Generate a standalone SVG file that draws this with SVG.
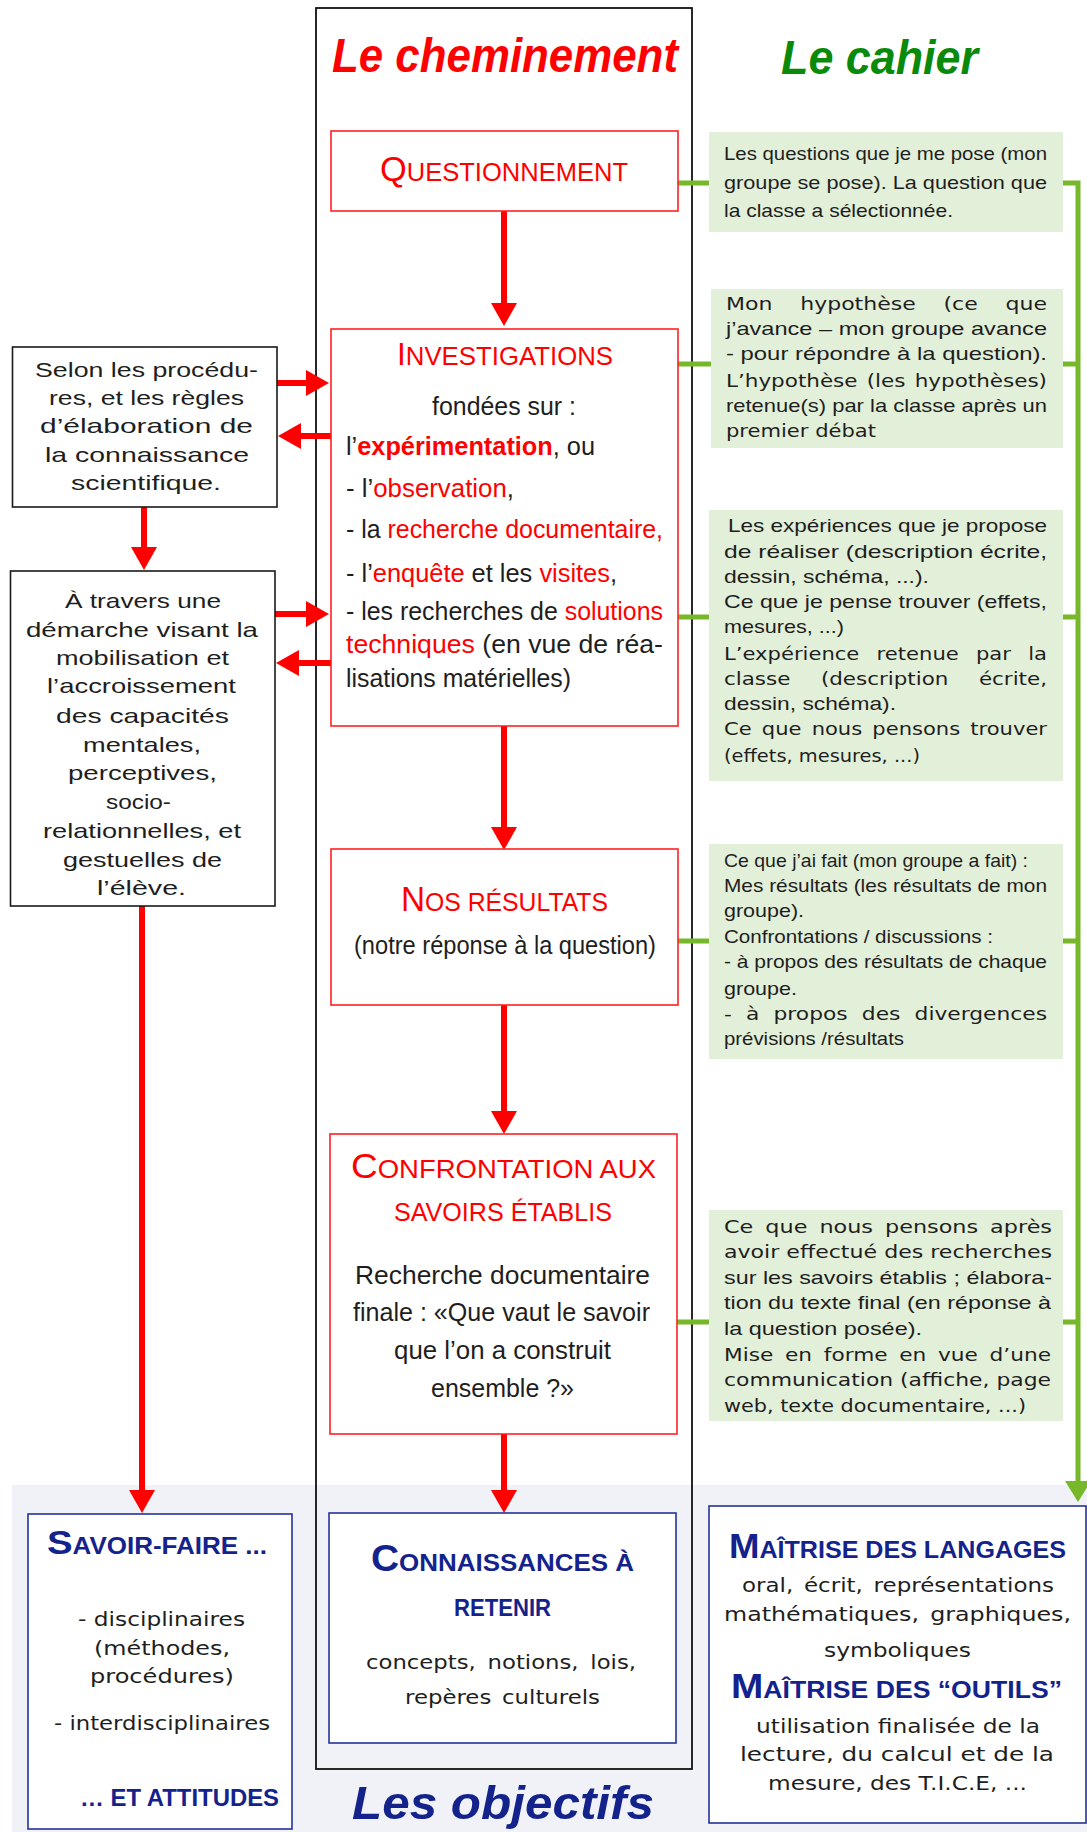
<svg xmlns="http://www.w3.org/2000/svg" width="1087" height="1832" viewBox="0 0 1087 1832">
<style>
text{font-family:"Liberation Sans",Arial,sans-serif;fill:#1e1e1e}
.t{font-size:26px}
.g{font-size:18.5px}
.cg{font-family:"DejaVu Sans","Liberation Sans",sans-serif;font-size:18px}
.s{font-size:21px}
.bc{font-family:"DejaVu Sans","Liberation Sans",sans-serif;font-size:20px}
.red{fill:#ff0000}
.blue{fill:#14238c;font-weight:bold}
.rt{fill:#ff0000;font-size:26px}
.redbox{fill:#fff;stroke:#ff2020;stroke-width:1.6}
.bluebox{fill:#fff;stroke:#23349a;stroke-width:1.6}
.blkbox{fill:#fff;stroke:#1a1a1a;stroke-width:1.6}
.gbox{fill:#e2efd9;stroke:none}
.ra{stroke:#ff0000;stroke-width:6;fill:none}
.gl{stroke:#76b82a;stroke-width:5;fill:none}
</style>
<defs>
<marker id="ah" markerUnits="userSpaceOnUse" markerWidth="24" markerHeight="26" refX="1" refY="13" orient="auto"><path d="M0,0 L23,13 L0,26 z" fill="#ff0000"/></marker>
<marker id="ahg" markerUnits="userSpaceOnUse" markerWidth="22" markerHeight="26" refX="1" refY="13" orient="auto"><path d="M0,0 L21,13 L0,26 z" fill="#76b82a"/></marker>
</defs>

<rect x="12" y="1485" width="1075" height="347" fill="#f1f2f8"/>
<rect id="frame" x="316" y="8" width="376" height="1761" fill="none" stroke="#111" stroke-width="1.8"/>

<text x="332" y="72" font-size="48" font-weight="bold" font-style="italic" textLength="346" lengthAdjust="spacingAndGlyphs" style="fill:#ff0000">Le  cheminement</text>
<text x="781" y="74" font-size="48" font-weight="bold" font-style="italic" textLength="197" lengthAdjust="spacingAndGlyphs" style="fill:#0a8a0a">Le cahier</text>
<text x="352" y="1819" font-size="47" font-weight="bold" font-style="italic" textLength="302" lengthAdjust="spacingAndGlyphs" style="fill:#14238c">Les  objectifs</text>

<g id="connectors">
<path class="ra" d="M504,211 V304" marker-end="url(#ah)"/>
<path class="ra" d="M504,726 V828" marker-end="url(#ah)"/>
<path class="ra" d="M504,1005 V1112" marker-end="url(#ah)"/>
<path class="ra" d="M504,1434 V1491" marker-end="url(#ah)"/>
<path class="ra" d="M144,507 V548" marker-end="url(#ah)"/>
<path class="ra" d="M142,906 V1491" marker-end="url(#ah)"/>
<path class="ra" d="M277,383 H307" marker-end="url(#ah)"/>
<path class="ra" d="M331,436 H300" marker-end="url(#ah)"/>
<path class="ra" d="M275,614 H307" marker-end="url(#ah)"/>
<path class="ra" d="M331,663 H298" marker-end="url(#ah)"/>
<path class="gl" d="M678,183 H709 M1063,183 H1078 V1482" marker-end="url(#ahg)"/>
<path class="gl" d="M678,364 H711 M1063,364 H1078"/>
<path class="gl" d="M678,617 H709 M1063,617 H1078"/>
<path class="gl" d="M678,941 H709 M1063,941 H1078"/>
<path class="gl" d="M677,1322 H709 M1063,1322 H1078"/>
</g>

<g id="questionnement">
<rect class="redbox" x="331" y="131" width="347" height="80"/>
<text class="rt" x="380" y="181" textLength="248" lengthAdjust="spacingAndGlyphs"><tspan font-size="35">Q</tspan>UESTIONNEMENT</text>
</g>

<g id="investigations">
<rect class="redbox" x="331" y="329" width="347" height="397"/>
<text class="rt" x="397" y="365" textLength="216" lengthAdjust="spacingAndGlyphs"><tspan font-size="32">I</tspan>NVESTIGATIONS</text>
<text class="t" x="432" y="415" textLength="144" lengthAdjust="spacingAndGlyphs">fondées sur :</text>
<text class="t" x="346" y="455" textLength="249" lengthAdjust="spacingAndGlyphs">l’<tspan class="red" font-weight="bold">expérimentation</tspan>, ou</text>
<text class="t" x="346" y="497" textLength="168" lengthAdjust="spacingAndGlyphs">- l’<tspan class="red">observation</tspan>,</text>
<text class="t" x="346" y="538" textLength="317" lengthAdjust="spacingAndGlyphs">- la <tspan class="red">recherche documentaire,</tspan></text>
<text class="t" x="346" y="582" textLength="271" lengthAdjust="spacingAndGlyphs">- l’<tspan class="red">enquête</tspan> et les <tspan class="red">visites</tspan>,</text>
<text class="t" x="346" y="620" textLength="317" lengthAdjust="spacingAndGlyphs">- les recherches de <tspan class="red">solutions</tspan></text>
<text class="t" x="346" y="653" textLength="317" lengthAdjust="spacingAndGlyphs"><tspan class="red">techniques</tspan> (en vue de réa-</text>
<text class="t" x="346" y="687" textLength="225" lengthAdjust="spacingAndGlyphs">lisations matérielles)</text>
</g>

<g id="resultats">
<rect class="redbox" x="331" y="849" width="347" height="156"/>
<text class="rt" x="401" y="911" textLength="207" lengthAdjust="spacingAndGlyphs"><tspan font-size="35">N</tspan>OS RÉSULTATS</text>
<text class="t" x="354" y="954" textLength="302" lengthAdjust="spacingAndGlyphs">(notre réponse à la question)</text>
</g>

<g id="confrontation">
<rect class="redbox" x="330" y="1134" width="347" height="300"/>
<text class="rt" x="351" y="1178" textLength="305" lengthAdjust="spacingAndGlyphs"><tspan font-size="35">C</tspan>ONFRONTATION  AUX</text>
<text class="rt" x="394" y="1221" textLength="218" lengthAdjust="spacingAndGlyphs">SAVOIRS  ÉTABLIS</text>
<text class="t" x="355" y="1284" textLength="295" lengthAdjust="spacingAndGlyphs">Recherche documentaire</text>
<text class="t" x="353" y="1321" textLength="297" lengthAdjust="spacingAndGlyphs">finale : «Que vaut le savoir</text>
<text class="t" x="394" y="1359" textLength="217" lengthAdjust="spacingAndGlyphs">que l’on a construit</text>
<text class="t" x="431" y="1397" textLength="143" lengthAdjust="spacingAndGlyphs">ensemble ?»</text>
</g>

<g id="selon">
<rect class="blkbox" x="12.5" y="347" width="264.5" height="160"/>
<text class="s" x="35" y="377" textLength="223" lengthAdjust="spacingAndGlyphs">Selon les procédu-</text>
<text class="s" x="49" y="405" textLength="195" lengthAdjust="spacingAndGlyphs">res, et les règles</text>
<text class="s" x="40" y="433" textLength="213" lengthAdjust="spacingAndGlyphs">d’élaboration de</text>
<text class="s" x="45" y="462" textLength="204" lengthAdjust="spacingAndGlyphs">la connaissance</text>
<text class="s" x="71" y="490" textLength="150" lengthAdjust="spacingAndGlyphs">scientifique.</text>
</g>

<g id="atravers">
<rect class="blkbox" x="10.5" y="571" width="264.5" height="335"/>
<text class="s" x="65" y="608" textLength="156" lengthAdjust="spacingAndGlyphs">À travers une</text>
<text class="s" x="26" y="637" textLength="232" lengthAdjust="spacingAndGlyphs">démarche visant la</text>
<text class="s" x="56" y="665" textLength="173" lengthAdjust="spacingAndGlyphs">mobilisation et</text>
<text class="s" x="47" y="693" textLength="189" lengthAdjust="spacingAndGlyphs">l’accroissement</text>
<text class="s" x="56" y="723" textLength="173" lengthAdjust="spacingAndGlyphs">des capacités</text>
<text class="s" x="83" y="752" textLength="118" lengthAdjust="spacingAndGlyphs">mentales,</text>
<text class="s" x="68" y="780" textLength="149" lengthAdjust="spacingAndGlyphs">perceptives,</text>
<text class="s" x="106" y="809" textLength="65" lengthAdjust="spacingAndGlyphs">socio-</text>
<text class="s" x="43" y="838" textLength="198" lengthAdjust="spacingAndGlyphs">relationnelles, et</text>
<text class="s" x="63" y="867" textLength="159" lengthAdjust="spacingAndGlyphs">gestuelles de</text>
<text class="s" x="97" y="895" textLength="89" lengthAdjust="spacingAndGlyphs">l’élève.</text>
</g>

<g id="cahier1">
<rect class="gbox" x="709" y="132" width="354" height="100"/>
<text class="g" x="724" y="160" font-size="19" textLength="323" lengthAdjust="spacingAndGlyphs">Les questions que je me pose (mon</text>
<text class="g" x="724" y="189" font-size="19" textLength="323" lengthAdjust="spacingAndGlyphs">groupe se pose). La question que</text>
<text class="g" x="724" y="217" font-size="19" textLength="229" lengthAdjust="spacingAndGlyphs">la classe a sélectionnée.</text>
</g>

<g id="cahier2">
<rect class="gbox" x="711" y="289" width="352" height="159"/>
<text class="cg" x="726" y="310" word-spacing="17" textLength="321" lengthAdjust="spacingAndGlyphs">Mon hypothèse (ce que</text>
<text class="g" x="726" y="335" textLength="321" lengthAdjust="spacingAndGlyphs">j’avance – mon groupe avance</text>
<text class="g" x="726" y="360" textLength="321" lengthAdjust="spacingAndGlyphs">- pour répondre à la question).</text>
<text class="cg" x="726" y="387" word-spacing="2" textLength="321" lengthAdjust="spacingAndGlyphs">L’hypothèse (les hypothèses)</text>
<text class="g" x="726" y="412" textLength="321" lengthAdjust="spacingAndGlyphs">retenue(s) par la classe après un</text>
<text class="cg" x="726" y="437" textLength="150" lengthAdjust="spacingAndGlyphs">premier débat</text>
</g>

<g id="cahier3">
<rect class="gbox" x="709" y="510" width="354" height="271"/>
<text class="g" x="728" y="532" textLength="319" lengthAdjust="spacingAndGlyphs">Les expériences que je propose</text>
<text class="g" x="724" y="558" textLength="323" lengthAdjust="spacingAndGlyphs">de réaliser (description écrite,</text>
<text class="g" x="724" y="583" textLength="205" lengthAdjust="spacingAndGlyphs">dessin, schéma, ...).</text>
<text class="g" x="724" y="608" textLength="323" lengthAdjust="spacingAndGlyphs">Ce que je pense trouver (effets,</text>
<text class="g" x="724" y="633" textLength="120" lengthAdjust="spacingAndGlyphs">mesures, ...)</text>
<text class="cg" x="724" y="660" word-spacing="9" textLength="323" lengthAdjust="spacingAndGlyphs">L’expérience retenue par la</text>
<text class="cg" x="724" y="685" word-spacing="20" textLength="323" lengthAdjust="spacingAndGlyphs">classe (description écrite,</text>
<text class="g" x="724" y="710" textLength="172" lengthAdjust="spacingAndGlyphs">dessin, schéma).</text>
<text class="cg" x="724" y="735" word-spacing="3" textLength="323" lengthAdjust="spacingAndGlyphs">Ce que nous pensons trouver</text>
<text class="cg" x="724" y="762" textLength="196" lengthAdjust="spacingAndGlyphs">(effets, mesures, ...)</text>
</g>

<g id="cahier4">
<rect class="gbox" x="709" y="844" width="354" height="215"/>
<text class="g" x="724" y="867" textLength="304" lengthAdjust="spacingAndGlyphs">Ce que j’ai fait (mon groupe a fait) :</text>
<text class="g" x="724" y="892" textLength="323" lengthAdjust="spacingAndGlyphs">Mes résultats (les résultats de mon</text>
<text class="g" x="724" y="917" textLength="80" lengthAdjust="spacingAndGlyphs">groupe).</text>
<text class="g" x="724" y="943" textLength="269" lengthAdjust="spacingAndGlyphs">Confrontations / discussions :</text>
<text class="g" x="724" y="968" textLength="323" lengthAdjust="spacingAndGlyphs">- à propos des résultats de chaque</text>
<text class="g" x="724" y="995" textLength="73" lengthAdjust="spacingAndGlyphs">groupe.</text>
<text class="cg" x="724" y="1020" word-spacing="6" textLength="323" lengthAdjust="spacingAndGlyphs">- à propos des divergences</text>
<text class="g" x="724" y="1045" textLength="180" lengthAdjust="spacingAndGlyphs">prévisions /résultats</text>
</g>

<g id="cahier5">
<rect class="gbox" x="709" y="1210" width="354" height="211"/>
<text class="cg" x="724" y="1233" word-spacing="4" textLength="328" lengthAdjust="spacingAndGlyphs">Ce que nous pensons après</text>
<text class="cg" x="724" y="1258" textLength="328" lengthAdjust="spacingAndGlyphs">avoir effectué des recherches</text>
<text class="g" x="724" y="1284" textLength="328" lengthAdjust="spacingAndGlyphs">sur les savoirs établis ; élabora-</text>
<text class="g" x="724" y="1309" textLength="327" lengthAdjust="spacingAndGlyphs">tion du texte final (en réponse à</text>
<text class="g" x="724" y="1335" textLength="198" lengthAdjust="spacingAndGlyphs">la question posée).</text>
<text class="cg" x="724" y="1361" word-spacing="4" textLength="327" lengthAdjust="spacingAndGlyphs">Mise en forme en vue d’une</text>
<text class="cg" x="724" y="1386" textLength="327" lengthAdjust="spacingAndGlyphs">communication (affiche, page</text>
<text class="cg" x="724" y="1412" textLength="302" lengthAdjust="spacingAndGlyphs">web, texte documentaire, ...)</text>
</g>

<g id="savoirfaire">
<rect class="bluebox" x="28" y="1514" width="264" height="315"/>
<text class="blue" x="47" y="1554" font-size="23" textLength="220" lengthAdjust="spacingAndGlyphs"><tspan font-size="34">S</tspan>AVOIR-FAIRE ...</text>
<text class="bc" x="78" y="1626" textLength="167" lengthAdjust="spacingAndGlyphs">- disciplinaires</text>
<text class="bc" x="94" y="1655" textLength="136" lengthAdjust="spacingAndGlyphs">(méthodes,</text>
<text class="bc" x="90" y="1683" textLength="144" lengthAdjust="spacingAndGlyphs">procédures)</text>
<text class="bc" x="54" y="1730" textLength="216" lengthAdjust="spacingAndGlyphs">- interdisciplinaires</text>
<text class="blue" x="80" y="1806" font-size="23" textLength="199" lengthAdjust="spacingAndGlyphs">… ET ATTITUDES</text>
</g>

<g id="connaissances">
<rect class="bluebox" x="329" y="1513" width="347" height="230"/>
<text class="blue" x="371" y="1571" font-size="24" textLength="263" lengthAdjust="spacingAndGlyphs"><tspan font-size="36">C</tspan>ONNAISSANCES À</text>
<text class="blue" x="454" y="1616" font-size="24" textLength="97" lengthAdjust="spacingAndGlyphs">RETENIR</text>
<text class="bc" x="366" y="1669" word-spacing="4" textLength="270" lengthAdjust="spacingAndGlyphs">concepts, notions, lois,</text>
<text class="bc" x="405" y="1704" word-spacing="3" textLength="195" lengthAdjust="spacingAndGlyphs">repères culturels</text>
</g>

<g id="maitrise">
<rect class="bluebox" x="709" y="1506" width="377" height="317"/>
<text class="blue" x="729" y="1558" font-size="24" textLength="337" lengthAdjust="spacingAndGlyphs"><tspan font-size="35">M</tspan>AÎTRISE DES LANGAGES</text>
<text class="bc" x="742" y="1592" word-spacing="3" textLength="312" lengthAdjust="spacingAndGlyphs">oral, écrit, représentations</text>
<text class="bc" x="724" y="1621" word-spacing="3" textLength="347" lengthAdjust="spacingAndGlyphs">mathématiques, graphiques,</text>
<text class="bc" x="824" y="1657" textLength="147" lengthAdjust="spacingAndGlyphs">symboliques</text>
<text class="blue" x="731" y="1698" font-size="24" textLength="331" lengthAdjust="spacingAndGlyphs"><tspan font-size="35">M</tspan>AÎTRISE DES “OUTILS”</text>
<text class="bc" x="756" y="1733" textLength="284" lengthAdjust="spacingAndGlyphs">utilisation finalisée de la</text>
<text class="bc" x="740" y="1761" textLength="314" lengthAdjust="spacingAndGlyphs">lecture, du calcul et de la</text>
<text class="bc" x="768" y="1790" textLength="259" lengthAdjust="spacingAndGlyphs">mesure, des T.I.C.E, ...</text>
</g>
</svg>
